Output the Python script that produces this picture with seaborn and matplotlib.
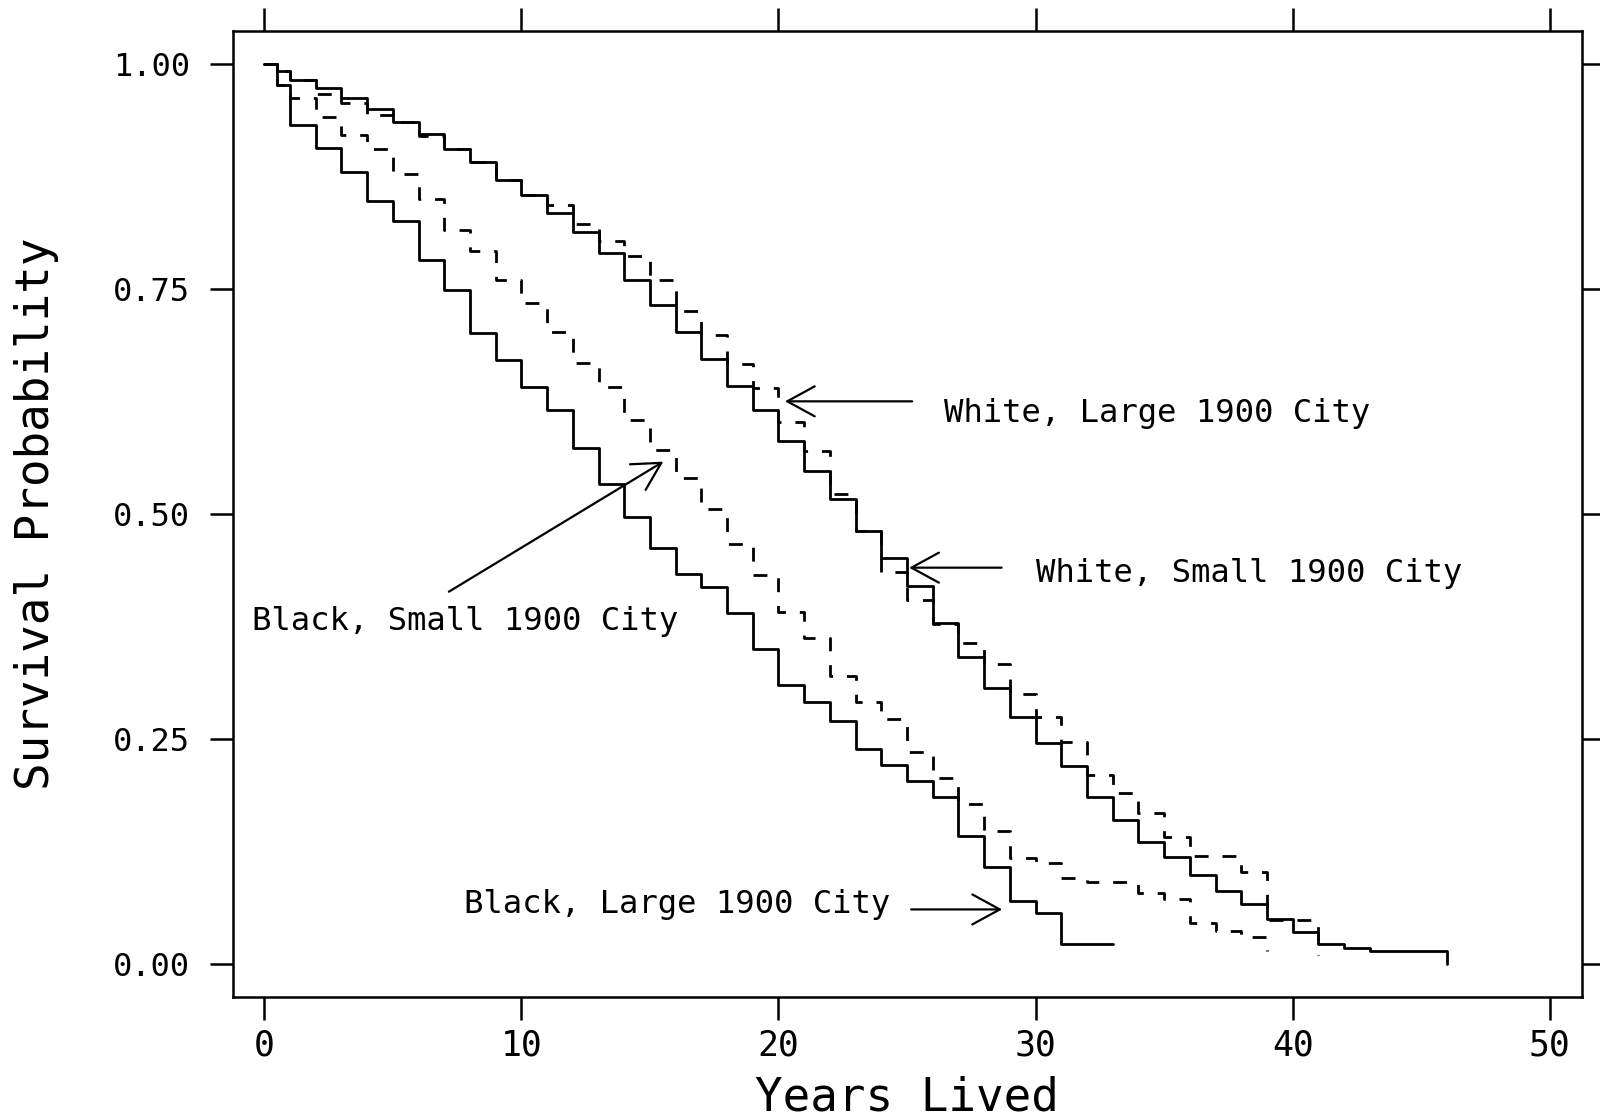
import numpy as np
import pandas as pd
import matplotlib
matplotlib.use("Agg")
import matplotlib.pyplot as plt
import seaborn as sns

# Kaplan-Meier survival estimates by race and size of 1900 city of residence
# (step times in years lived; each value holds until the next time)
white_large_t = [0, 0.5, 1, 2, 3, 4, 5, 6, 7, 8, 9, 10, 11, 12, 13, 14, 15, 16, 17, 18, 19, 20,
                 21, 22, 23, 24, 25, 26, 27, 28, 29, 30, 31, 32, 33, 34, 35, 36, 37, 38, 39, 40,
                 41, 42, 43, 46]
white_large_s = [1.000, 0.993, 0.983, 0.974, 0.962, 0.950, 0.936, 0.923, 0.906, 0.891, 0.871,
                 0.855, 0.835, 0.814, 0.790, 0.760, 0.732, 0.702, 0.672, 0.642, 0.616, 0.581,
                 0.548, 0.517, 0.481, 0.451, 0.420, 0.379, 0.341, 0.307, 0.275, 0.246, 0.220,
                 0.186, 0.160, 0.136, 0.119, 0.099, 0.082, 0.067, 0.050, 0.036, 0.023, 0.0185,
                 0.015, 0.000]

white_small_t = [0, 0.5, 1, 2, 3, 4, 5, 6, 7, 8, 9, 10, 11, 12, 13, 14, 15, 16, 17, 18, 19, 20,
                 21, 22, 23, 24, 25, 26, 27, 28, 29, 30, 31, 32, 33, 34, 35, 36, 38, 39, 41]
white_small_s = [1.000, 0.993, 0.983, 0.967, 0.957, 0.944, 0.936, 0.920, 0.906, 0.891, 0.871,
                 0.855, 0.844, 0.822, 0.804, 0.787, 0.760, 0.726, 0.699, 0.667, 0.640, 0.603,
                 0.570, 0.523, 0.481, 0.436, 0.405, 0.378, 0.357, 0.334, 0.300, 0.275, 0.247,
                 0.210, 0.190, 0.168, 0.142, 0.120, 0.103, 0.049, 0.010]

black_small_t = [0, 0.5, 1, 2, 3, 4, 5, 6, 7, 8, 9, 10, 11, 12, 13, 14, 15, 16, 17, 18, 19, 20,
                 21, 22, 23, 24, 25, 26, 27, 28, 29, 30, 31, 32, 34, 35, 36, 37, 38, 39]
black_small_s = [1.000, 0.977, 0.962, 0.941, 0.921, 0.906, 0.878, 0.850, 0.816, 0.793, 0.760,
                 0.735, 0.702, 0.668, 0.641, 0.605, 0.571, 0.540, 0.506, 0.467, 0.432, 0.391,
                 0.363, 0.320, 0.292, 0.273, 0.236, 0.207, 0.178, 0.148, 0.118, 0.113, 0.096,
                 0.091, 0.079, 0.073, 0.046, 0.037, 0.030, 0.015]

black_large_t = [0, 0.5, 1, 2, 3, 4, 5, 6, 7, 8, 9, 10, 11, 12, 13, 14, 15, 16, 17, 18, 19, 20,
                 21, 22, 23, 24, 25, 26, 27, 28, 29, 30, 31, 33]
black_large_s = [1.000, 0.977, 0.933, 0.907, 0.880, 0.848, 0.826, 0.783, 0.749, 0.701, 0.671,
                 0.641, 0.616, 0.574, 0.534, 0.497, 0.4625, 0.434, 0.419, 0.390, 0.350, 0.310,
                 0.291, 0.270, 0.239, 0.2215, 0.204, 0.186, 0.143, 0.108, 0.070, 0.057, 0.023,
                 0.023]

group_labels = ["White, Large 1900 City", "White, Small 1900 City",
                "Black, Small 1900 City", "Black, Large 1900 City"]

x_ticks = [0, 10, 20, 30, 40, 50]
y_ticks = [0.00, 0.25, 0.50, 0.75, 1.00]
y_ticklabels = ["0.00", "0.25", "0.50", "0.75", "1.00"]

sns.set_style("ticks")
plt.rcParams["font.family"] = ["DejaVu Sans Mono", "DejaVu Sans"]
plt.rcParams["text.color"] = "black"
plt.rcParams["axes.labelcolor"] = "black"
plt.rcParams["xtick.color"] = "black"
plt.rcParams["ytick.color"] = "black"

fig = plt.figure(figsize=(16, 11.18), dpi=100)
ax = fig.add_axes([0.14544, 0.10823, 0.84306, 0.86440])

curves = [
    (white_large_t, white_large_s, "-"),
    (white_small_t, white_small_s, (0, (5, 5))),
    (black_small_t, black_small_s, (0, (5, 5))),
    (black_large_t, black_large_s, "-"),
]
for (t, s, ls), name in zip(curves, group_labels):
    df = pd.DataFrame({"years": t, "surv": s})
    sns.lineplot(data=df, x="years", y="surv", ax=ax, estimator=None, sort=False,
                 drawstyle="steps-post", color="black", linewidth=2.0, linestyle=ls,
                 legend=False)

# labels with arrows pointing at their curves
arrow_kw = dict(arrowstyle="->,head_length=0.55,head_width=0.3", color="black",
                lw=1.6, shrinkA=0, shrinkB=0, mutation_scale=36)
label_pos = [(26.45, 0.602), (30.0, 0.425), (-0.48, 0.371), (7.78, 0.0567)]
arrow_tail = [(25.2, 0.6255), (28.68, 0.4407), (7.18, 0.414), (25.16, 0.061)]
arrow_tip = [(20.25, 0.6255), (25.08, 0.4407), (15.52, 0.5585), (28.7, 0.061)]
for name, (tx, ty), tail, tip in zip(group_labels, label_pos, arrow_tail, arrow_tip):
    ax.text(tx, ty, name, ha="left", va="baseline", fontsize=23.2,
            family="DejaVu Sans Mono", color="black")
    ax.annotate("", xy=tip, xytext=tail, arrowprops=arrow_kw)

ax.set_xlim(-1.229, 51.24)
ax.set_ylim(-0.0363, 1.0374)
ax.set_xticks(x_ticks)
ax.set_xticklabels([str(v) for v in x_ticks], family="DejaVu Sans Mono", fontsize=25,
                   color="black")
ax.set_yticks(y_ticks)
ax.set_yticklabels(y_ticklabels, family="DejaVu Sans Mono", fontsize=23, color="black")

ax.tick_params(direction="out", length=16.5, width=1.8, top=True, right=True,
               labeltop=False, labelright=False, color="black", labelcolor="black")
ax.tick_params(axis="x", pad=6)
ax.tick_params(axis="y", pad=14)
for sp in ax.spines.values():
    sp.set_visible(True)
    sp.set_linewidth(1.8)
    sp.set_color("black")

ax.set_xlabel("Years Lived", fontsize=33, family="DejaVu Sans Mono", va="center",
              color="black")
ax.set_ylabel("Survival Probability", fontsize=33, family="DejaVu Sans Mono", va="center",
              color="black")
ax.xaxis.set_label_coords(0.5, -0.1045)
ax.yaxis.set_label_coords(-0.1458, 0.5)
ax.grid(False)

fig.savefig("out.png", dpi=100, facecolor="white")
